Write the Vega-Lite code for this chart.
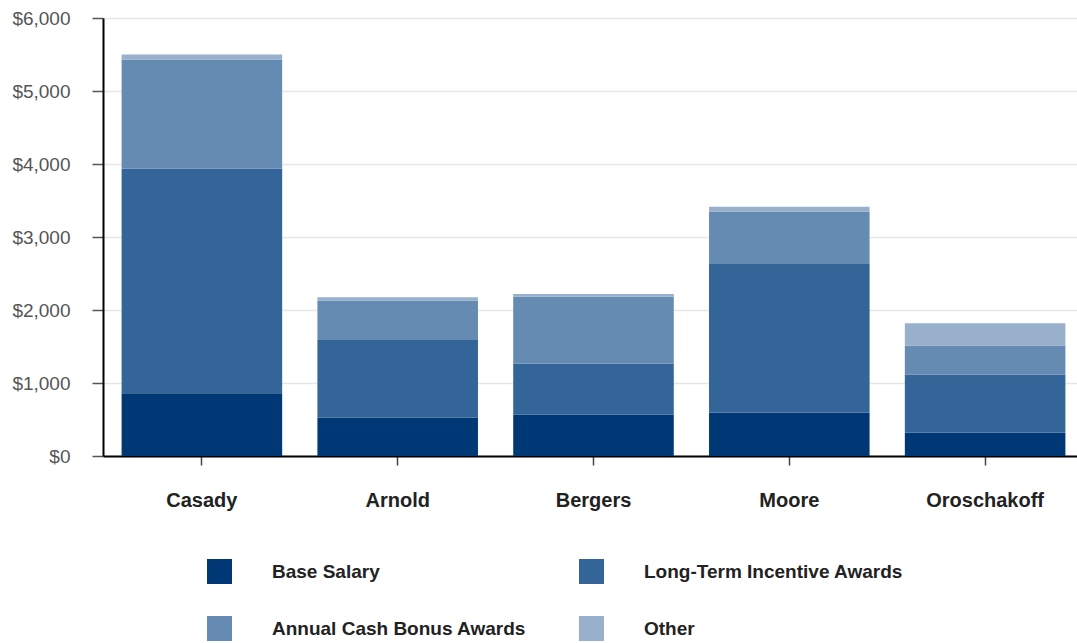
{
  "$schema": "https://vega.github.io/schema/vega-lite/v6.json",
  "width": 981,
  "height": 438,
  "autosize": {"type": "none"},
  "padding": {"left": 103, "top": 18, "right": -7, "bottom": 187},
  "background": "white",
  "config": {
    "view": {"stroke": null},
    "font": "Liberation Sans"
  },
  "data": {
    "values": [
      {"name": "Casady", "component": "Base Salary", "ord": 1, "value": 860},
      {"name": "Casady", "component": "Long-Term Incentive Awards", "ord": 2, "value": 3080},
      {"name": "Casady", "component": "Annual Cash Bonus Awards", "ord": 3, "value": 1490},
      {"name": "Casady", "component": "Other", "ord": 4, "value": 70},
      {"name": "Arnold", "component": "Base Salary", "ord": 1, "value": 525},
      {"name": "Arnold", "component": "Long-Term Incentive Awards", "ord": 2, "value": 1065},
      {"name": "Arnold", "component": "Annual Cash Bonus Awards", "ord": 3, "value": 540},
      {"name": "Arnold", "component": "Other", "ord": 4, "value": 45},
      {"name": "Bergers", "component": "Base Salary", "ord": 1, "value": 570},
      {"name": "Bergers", "component": "Long-Term Incentive Awards", "ord": 2, "value": 695},
      {"name": "Bergers", "component": "Annual Cash Bonus Awards", "ord": 3, "value": 915},
      {"name": "Bergers", "component": "Other", "ord": 4, "value": 40},
      {"name": "Moore", "component": "Base Salary", "ord": 1, "value": 595},
      {"name": "Moore", "component": "Long-Term Incentive Awards", "ord": 2, "value": 2035},
      {"name": "Moore", "component": "Annual Cash Bonus Awards", "ord": 3, "value": 720},
      {"name": "Moore", "component": "Other", "ord": 4, "value": 65},
      {"name": "Oroschakoff", "component": "Base Salary", "ord": 1, "value": 320},
      {"name": "Oroschakoff", "component": "Long-Term Incentive Awards", "ord": 2, "value": 795},
      {"name": "Oroschakoff", "component": "Annual Cash Bonus Awards", "ord": 3, "value": 400},
      {"name": "Oroschakoff", "component": "Other", "ord": 4, "value": 305}
    ]
  },
  "mark": {"type": "bar"},
  "encoding": {
    "x": {
      "field": "name",
      "type": "nominal",
      "sort": ["Casady", "Arnold", "Bergers", "Moore", "Oroschakoff"],
      "scale": {"paddingInner": 0.18, "paddingOuter": 0.095},
      "axis": {
        "title": null,
        "labelAngle": 0,
        "labelFontSize": 20,
        "labelFontWeight": "bold",
        "labelColor": "#222",
        "labelPadding": 25,
        "tickSize": 9,
        "tickColor": "#444",
        "tickWidth": 1.5,
        "domainColor": "#000",
        "domainWidth": 2
      }
    },
    "y": {
      "field": "value",
      "type": "quantitative",
      "stack": "zero",
      "scale": {"domain": [0, 6000], "nice": false},
      "axis": {
        "title": null,
        "values": [0, 1000, 2000, 3000, 4000, 5000, 6000],
        "format": "$,.0f",
        "labelFontSize": 19,
        "labelColor": "#555",
        "labelPadding": 22,
        "tickSize": 11,
        "tickColor": "#555",
        "tickWidth": 1.5,
        "domainColor": "#000",
        "domainWidth": 2,
        "gridColor": "#e6e6e6",
        "gridWidth": 1.5
      }
    },
    "order": {"field": "ord", "type": "quantitative"},
    "color": {
      "field": "component",
      "type": "nominal",
      "scale": {
        "domain": ["Base Salary", "Long-Term Incentive Awards", "Annual Cash Bonus Awards", "Other"],
        "range": ["#003876", "#336598", "#668bb2", "#99b0cc"]
      },
      "legend": {
        "title": null,
        "orient": "none",
        "legendX": 104,
        "legendY": 541,
        "direction": "horizontal",
        "columns": 2,
        "columnPadding": 52,
        "rowPadding": 32,
        "symbolType": "square",
        "symbolSize": 625,
        "symbolStrokeWidth": 0,
        "labelOffset": 40,
        "labelFontSize": 19,
        "labelFontWeight": "bold",
        "labelColor": "#222",
        "labelLimit": 400
      }
    }
  }
}
